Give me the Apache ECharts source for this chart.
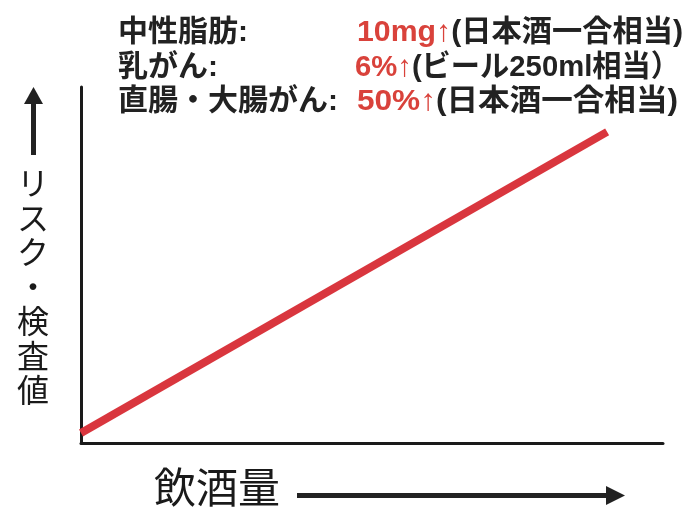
<!DOCTYPE html>
<html><head><meta charset="utf-8">
<script src="https://cdn.jsdelivr.net/npm/echarts@6/dist/echarts.min.js"></script>
<style>html,body{margin:0;padding:0;background:#fff}#c{width:691px;height:511px}</style>
</head><body><div id="c"></div>
<script>
// data
const drinkAmount = [0, 90.4];     // x values (飲酒量)
const riskValue = [2.8, 87.4];     // y values (リスク・検査値)
const noteLabels = ['中性脂肪:', '乳がん:', '直腸・大腸がん:'];
const noteValues = ['10mg↑', '6%↑', '50%↑'];
const noteRefs = ['(日本酒一合相当)', '(ビール250ml相当）', '(日本酒一合相当)'];
const xAxisName = '飲酒量';
const yAxisName = 'リスク・検査値';

const chart = echarts.init(document.getElementById('c'));
const CJK = '"Noto Sans CJK JP", "Noto Sans", sans-serif';
const LAT = '"Liberation Sans", "Noto Sans CJK JP", sans-serif';
const mctx = document.createElement('canvas').getContext('2d');
function w(text, font){ mctx.font = font; return mctx.measureText(text).width; }

const graphics = [];
const lineY = [33, 68, 102];
const leftX = [118, 118, 118];
const valX = [357, 355, 357];
const rightEnd = [683, 680, 678];
const labFont = 'bold 30px ' + LAT;
const rFont = 'bold 30px ' + LAT;
noteLabels.forEach((t, i) => {
  graphics.push({type:'text', x:leftX[i], y:lineY[i], style:{text:t, font:labFont, fill:'#222', verticalAlign:'middle'}});
  const vw = w(noteValues[i], rFont);
  const rw = w(noteRefs[i], rFont);
  const s = (rightEnd[i] - valX[i]) / (vw + rw);
  graphics.push({type:'group', x:valX[i], y:lineY[i], scaleX:s, children:[
    {type:'text', x:0, y:0, style:{text:noteValues[i], font:rFont, fill:'#d9423b', verticalAlign:'middle'}},
    {type:'text', x:vw, y:0, style:{text:noteRefs[i], font:rFont, fill:'#222', verticalAlign:'middle'}}
  ]});
});
// y axis label
graphics.push({type:'text', left:17, top:166, style:{text:yAxisName.split('').join('\n'), font:'32px '+CJK, lineHeight:34.5, fill:'#1a1a1a', align:'center'}});
// y arrow
graphics.push({type:'rect', shape:{x:31, y:100, width:5, height:55}, style:{fill:'#222'}});
graphics.push({type:'polygon', shape:{points:[[33.5,87],[24,104],[43,104]]}, style:{fill:'#222'}});
// x label
graphics.push({type:'text', left:154, top:466, style:{text:xAxisName, font:'42px '+CJK, fill:'#1a1a1a'}});
// x arrow
graphics.push({type:'rect', shape:{x:297, y:493, width:310, height:5}, style:{fill:'#222'}});
graphics.push({type:'polygon', shape:{points:[[625,495.5],[606,486],[606,505]]}, style:{fill:'#222'}});

chart.setOption({
  animation:false,
  grid:{left:81, top:87, right:28, bottom:68},
  xAxis:{type:'value', min:0, max:100, axisLine:{show:true, onZero:false, lineStyle:{color:'#1a1a1a', width:3}}, axisTick:{show:false}, axisLabel:{show:false}, splitLine:{show:false}},
  yAxis:{type:'value', min:0, max:100, axisLine:{show:true, onZero:false, lineStyle:{color:'#1a1a1a', width:3}}, axisTick:{show:false}, axisLabel:{show:false}, splitLine:{show:false}},
  series:[{type:'line', data:drinkAmount.map((x,i)=>[x, riskValue[i]]), symbol:'none', lineStyle:{color:'#d9363e', width:8, cap:'butt'}}],
  graphic:graphics
});
</script></body></html>
